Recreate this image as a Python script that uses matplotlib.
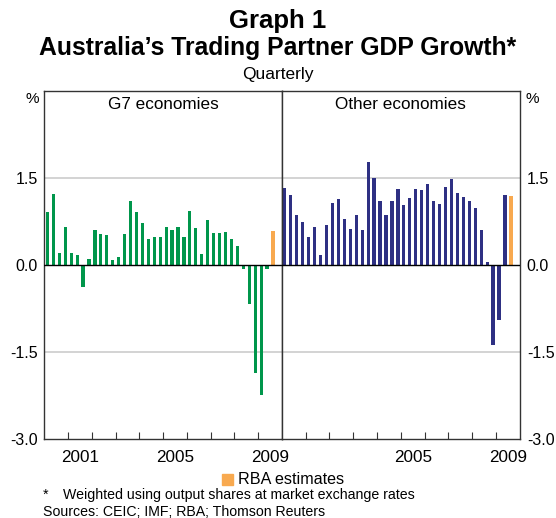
import matplotlib
matplotlib.use("Agg")
import matplotlib.pyplot as plt
import numpy as np
from matplotlib.patches import Rectangle

plt.rcParams['font.family'] = ['Liberation Sans', 'DejaVu Sans']

# ---- data (quarterly % growth, 2000Q1 .. 2009Q2 actual, 2009Q3 RBA estimate)
start_year = 2000
g7_values = [0.92, 1.23, 0.21, 0.66, 0.21, 0.18, -0.37, 0.11, 0.61, 0.54,
             0.52, 0.09, 0.14, 0.54, 1.11, 0.91, 0.73, 0.45, 0.49, 0.49,
             0.66, 0.61, 0.66, 0.49, 0.94, 0.64, 0.20, 0.78, 0.56, 0.56,
             0.57, 0.45, 0.33, -0.07, -0.66, -1.85, -2.23, -0.06]
g7_estimate = [0.59]
other_values = [1.33, 1.21, 0.87, 0.75, 0.49, 0.66, 0.18, 0.69, 1.07, 1.14,
                0.80, 0.63, 0.87, 0.61, 1.78, 1.50, 1.11, 0.87, 1.11, 1.31,
                1.04, 1.16, 1.31, 1.30, 1.40, 1.11, 1.06, 1.35, 1.49, 1.24,
                1.18, 1.11, 0.99, 0.61, 0.06, -1.37, -0.95, 1.21]
other_estimate = [1.19]
ytick_vals = [-3.0, -1.5, 0.0, 1.5]
ytick_labels = ["-3.0", "-1.5", "0.0", "1.5"]
left_year_labels = [2001, 2005, 2009]
right_year_labels = [2005, 2009]
panel_titles = ["G7 economies", "Other economies"]

GREEN = "#00964b"
NAVY = "#2e3083"
ORANGE = "#f8a94f"
SPINE = "#333333"
GRID = "#cccccc"

fig = plt.figure(figsize=(5.56, 5.18), dpi=100)
fig.patch.set_facecolor("white")

axL = fig.add_axes([0.080, 0.152, 0.427, 0.672])
axR = fig.add_axes([0.507, 0.152, 0.428, 0.672])


def qpos(n, offset=0):
    return start_year + (np.arange(n) + offset + 0.5) / 4.0


def style(ax, vals, est, color, year_labels, title, side):
    x = qpos(len(vals))
    xe = qpos(len(est), offset=len(vals))
    ax.axhline(1.5, color=GRID, lw=1.2, zorder=0)
    ax.axhline(-1.5, color=GRID, lw=1.2, zorder=0)
    ax.bar(x, vals, width=0.135, color=color, zorder=2)
    ax.bar(xe, est, width=0.135, color=ORANGE, zorder=2)
    ax.axhline(0, color="black", lw=1.0, zorder=3)
    ax.set_xlim(2000, 2010)
    ax.set_ylim(-3, 3)
    ax.set_yticks(ytick_vals)
    ax.set_yticklabels(ytick_labels, fontsize=11.5)
    ax.tick_params(axis="y", length=0, pad=5)
    if side == "right":
        ax.yaxis.tick_right()
        ax.tick_params(axis="y", labelleft=False, labelright=True)
    else:
        ax.tick_params(axis="y", labelleft=True, labelright=False)
    ax.set_xticks(np.arange(2001, 2010))
    ax.set_xticklabels([])
    ax.tick_params(axis="x", which="major", direction="in", length=5,
                   width=0.8, color=SPINE)
    ax.set_xticks([y + 0.5 for y in year_labels], minor=True)
    ax.set_xticklabels([str(y) for y in year_labels], minor=True, fontsize=12.3)
    ax.tick_params(axis="x", which="minor", length=0, pad=8)
    for s in ax.spines.values():
        s.set_color(SPINE)
        s.set_linewidth(1.0)
    ax.text(0.5, 0.983, title, transform=ax.transAxes, ha="center", va="top",
            fontsize=12.3)
    ax.set_facecolor("white")


style(axL, g7_values, g7_estimate, GREEN, left_year_labels, panel_titles[0], "left")
style(axR, other_values, other_estimate, NAVY, right_year_labels, panel_titles[1], "right")

# % labels
fig.text(32 / 556, 1 - 99 / 518, "%", ha="center", va="center", fontsize=11)
fig.text(532 / 556, 1 - 99 / 518, "%", ha="center", va="center", fontsize=11)

# titles
fig.text(0.5, 1 - 21 / 518, "Graph 1", ha="center", va="center",
         fontsize=18.5, fontweight="bold")
fig.text(0.5, 1 - 48 / 518, "Australia\u2019s Trading Partner GDP Growth*",
         ha="center", va="center", fontsize=17.8, fontweight="bold")
fig.text(0.5, 1 - 75 / 518, "Quarterly", ha="center", va="center", fontsize=12.5)

# legend
fig.patches.append(Rectangle((222 / 556, 1 - 485 / 518), 11 / 556, 11 / 518,
                             transform=fig.transFigure, color=ORANGE,
                             figure=fig))
fig.text(238 / 556, 1 - 480 / 518, "RBA estimates", ha="left", va="center",
         fontsize=11.6)

# footnotes
fig.text(43 / 556, 1 - 495 / 518, "*", ha="left", va="center", fontsize=10.2)
fig.text(63 / 556, 1 - 495 / 518,
         "Weighted using output shares at market exchange rates",
         ha="left", va="center", fontsize=10.2)
fig.text(43 / 556, 1 - 512 / 518, "Sources: CEIC; IMF; RBA; Thomson Reuters",
         ha="left", va="center", fontsize=10.2)

fig.savefig("out.png", dpi=100, facecolor="white")
